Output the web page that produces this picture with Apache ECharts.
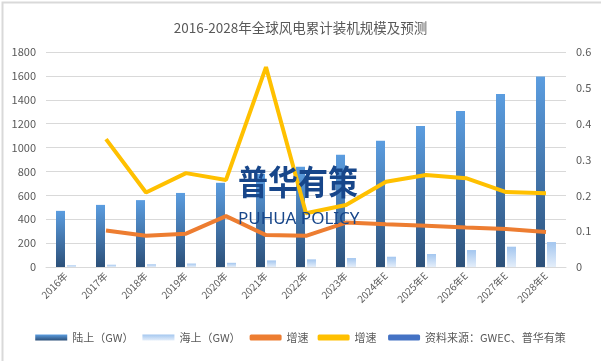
<!DOCTYPE html>
<html><head><meta charset="utf-8">
<script src="https://cdn.jsdelivr.net/npm/echarts@6/dist/echarts.min.js"></script>
<style>html,body{margin:0;padding:0;background:#fff}#c{width:601px;height:361px}</style>
</head><body><div id="c"></div>
<script>
const categories = ['2016年','2017年','2018年','2019年','2020年','2021年','2022年','2023年','2024年E','2025年E','2026年E','2027年E','2028年E'];
const onshore = [470, 520, 560, 620, 705, 780, 840, 940, 1058, 1181, 1306, 1449, 1594];
const offshore = [14, 19, 23, 29, 35, 55, 64, 75, 86, 109, 142, 170, 209];
const growthA = [null, 0.102, 0.087, 0.093, 0.142, 0.089, 0.087, 0.124, 0.119, 0.115, 0.110, 0.106, 0.098];
const growthB = [null, 0.357, 0.208, 0.262, 0.243, 0.558, 0.150, 0.173, 0.238, 0.257, 0.248, 0.209, 0.206];
const leftTicks = [0, 1800, 200];
const rightTicks = [0, 0.6, 0.1];

const FONT = '"Noto Sans CJK SC", "Noto Sans", sans-serif';
const G = echarts.graphic;
const chart = echarts.init(document.getElementById('c'), null, {renderer: 'canvas'});
chart.setOption({
  animation: false,
  backgroundColor: '#fff',
  textStyle: {fontFamily: FONT},
  title: {
    text: '2016-2028年全球风电累计装机规模及预测',
    left: 'center', top: 16,
    textStyle: {fontSize: 13.5, fontWeight: 'normal', color: '#595959', fontFamily: FONT}
  },
  legend: {
    bottom: 13, left: 'center',
    itemWidth: 32, itemHeight: 6, itemGap: 9,
    textStyle: {fontSize: 11, color: '#595959', fontFamily: FONT},
    data: [
      {name: '陆上（GW）', icon: 'rect'},
      {name: '海上（GW）', icon: 'rect'},
      {name: '增速', icon: 'roundRect'},
      {name: '增速 ', icon: 'roundRect'},
      {name: '资料来源：GWEC、普华有策', icon: 'roundRect'}
    ]
  },
  grid: {left: 46, right: 35, top: 52, bottom: 94},
  xAxis: {
    type: 'category', data: categories,
    axisLine: {lineStyle: {color: '#d9d9d9'}},
    axisTick: {show: false},
    axisLabel: {rotate: 45, color: '#595959', fontSize: 10, fontFamily: FONT, margin: 7}
  },
  yAxis: [{
    type: 'value', min: leftTicks[0], max: leftTicks[1], interval: leftTicks[2],
    axisLine: {show: false}, axisTick: {show: false},
    splitLine: {lineStyle: {color: '#d9d9d9'}},
    axisLabel: {color: '#595959', fontSize: 11, margin: 10, fontFamily: FONT, formatter: v => String(v)}
  }, {
    type: 'value', min: rightTicks[0], max: rightTicks[1], interval: rightTicks[2],
    axisLine: {show: false}, axisTick: {show: false}, splitLine: {show: false},
    axisLabel: {color: '#595959', fontSize: 11, margin: 10, fontFamily: FONT, formatter: v => String(+v.toFixed(1))}
  }],
  series: [{
    name: '陆上（GW）', type: 'bar', data: onshore, barWidth: 9, barGap: '22%',
    itemStyle: {color: new G.LinearGradient(0, 0, 0, 1, [{offset: 0, color: '#5b9de0'}, {offset: 1, color: '#2c5079'}])}
  }, {
    name: '海上（GW）', type: 'bar', data: offshore, barWidth: 9,
    itemStyle: {color: new G.LinearGradient(0, 0, 0, 1, [{offset: 0, color: '#a3c6ef'}, {offset: 1, color: '#e4eefa'}])}
  }, {
    name: '增速', type: 'line', yAxisIndex: 1, data: growthA, showSymbol: false, symbol: 'none',
    color: '#ED7D31', lineStyle: {width: 4, color: '#ED7D31'}, z: 3
  }, {
    name: '增速 ', type: 'line', yAxisIndex: 1, data: growthB, showSymbol: false, symbol: 'none',
    color: '#FFC000', lineStyle: {width: 4, color: '#FFC000'}, z: 3
  }, {
    name: '资料来源：GWEC、普华有策', type: 'line', data: [], symbol: 'none',
    color: '#4472C4', lineStyle: {width: 4, color: '#4472C4'}
  }],
  graphic: [{
    type: 'rect', left: 0, top: 0, z: 100, silent: true,
    shape: {width: 600, height: 360},
    style: {fill: 'none', stroke: '#d9d9d9', lineWidth: 2}
  }, {
    type: 'text', x: 238, y: 165, z: 50, scaleY: 1.15,
    style: {text: '普华有策', fill: '#17468a', font: 'bold 30px "Noto Sans CJK SC"'}
  }, {
    type: 'text', x: 238, y: 211, z: 50,
    style: {text: 'PUHUA POLICY', fill: '#17468a', font: '17px "Noto Sans"'}
  }]
});
</script></body></html>
